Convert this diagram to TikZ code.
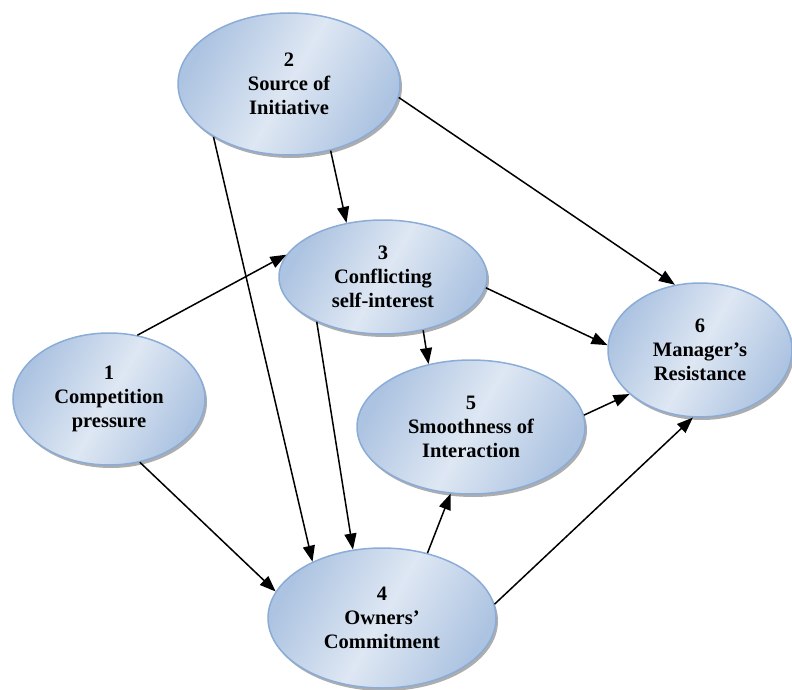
\documentclass[tikz,border=0pt]{standalone}
\usepackage{fontspec}
\setmainfont{Liberation Serif}
\usetikzlibrary{shapes.geometric,shadows,arrows.meta}
\definecolor{ovaledge}{RGB}{172,195,225}
\definecolor{ovalmid}{RGB}{222,231,243}
\definecolor{ovalline}{RGB}{138,172,214}
\tikzset{
  factor/.style={ellipse, draw=ovalline, line width=1.5pt,
    left color=ovaledge, right color=ovaledge, middle color=ovalmid, shading angle=60,
    drop shadow={shadow xshift=2pt, shadow yshift=-3pt, fill=gray!80, opacity=0.8},
    inner sep=0pt, align=center, font=\fontsize{20.5}{24}\selectfont\bfseries},
  link/.style={black, line width=1.5pt, -{Triangle[length=16pt,width=12pt]}}
}
\begin{document}
\begin{tikzpicture}[x=1pt,y=1pt]
			\useasboundingbox (0,0) rectangle (792,-690);
			\node [factor, minimum width=192pt, minimum height=132pt] (pressure) at (109,-399) {1\\Competition\\pressure};
			\node [factor, minimum width=222pt, minimum height=142pt] (initiative) at (289,-84) {2\\Source of\\Initiative};
			\node [factor, minimum width=208pt, minimum height=114pt] (conflict) at (383,-277) {3\\Conflicting\\self-interest};
			\node [factor, minimum width=228pt, minimum height=140pt] (commitment) at (382,-618) {4\\Owners’\\Commitment};
			\node [factor, minimum width=228pt, minimum height=134pt] (smoothness) at (471,-427) {5\\Smoothness of\\Interaction};
			\node [factor, minimum width=184pt, minimum height=134pt] (resistance) at (700,-350) {6\\Manager’s\\Resistance};
			\draw [link] (pressure.66) -- (conflict.167);
			\draw [link] (pressure.-64) -- (commitment.166);
			\draw [link] (initiative.-58) -- (conflict.124);
			\draw [link] (initiative.215) -- (commitment.141);
			\draw [link] (initiative.-7) -- (resistance.111);
			\draw [link] (conflict.214) -- (commitment.113);
			\draw [link] (conflict.-53) -- (smoothness.124);
			\draw [link] (conflict.-6) -- (resistance.177);
			\draw [link] (smoothness.6) -- (resistance.212);
			\draw [link] (commitment.55) -- (smoothness.253);
			\draw [link] (commitment.7) -- (resistance.264);
		\end{tikzpicture}
\end{document}
